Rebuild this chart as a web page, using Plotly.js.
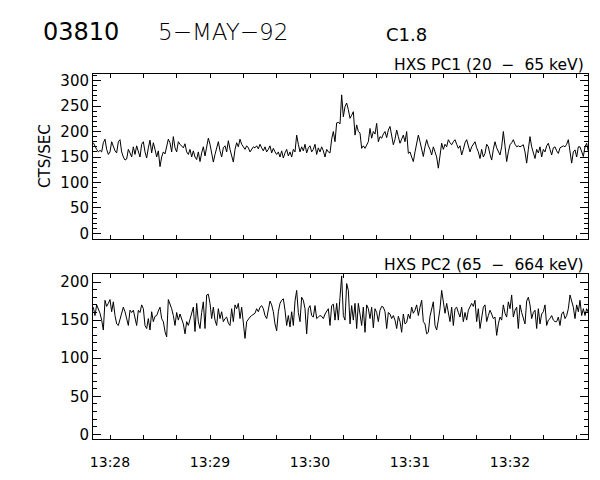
<!DOCTYPE html>
<html>
<head>
<meta charset="utf-8">
<script src="https://cdn.plot.ly/plotly-3.0.1.min.js"></script>
<style>html,body{margin:0;padding:0;background:#fff;}#chart{width:600px;height:480px;}</style>
</head>
<body>
<div id="chart"></div>
<script>
// Sample timing (1 s cadence)
const startTime = '1992-05-05 13:27:50';
const cadenceSec = 1;

// HXS PC1 (20 - 65 keV), counts/s
const pc1 = [
178,170,165,160,163,160,178,185,165,155,
160,180,170,162,158,180,184,160,150,144,
146,165,158,150,170,155,172,160,150,175,
180,160,148,168,183,158,178,165,150,162,
131,150,160,156,172,185,178,160,190,168,
160,180,175,172,168,176,160,155,165,150,
162,150,145,160,141,158,170,152,170,187,
175,160,140,155,170,180,162,150,168,172,
160,182,165,150,140,165,178,170,185,175,
170,165,172,168,160,165,170,168,172,166,
175,168,162,170,160,165,172,158,167,160,
155,160,150,162,148,158,165,152,160,150,
165,160,193,175,160,170,162,175,158,168,
172,160,165,175,155,168,160,170,162,150,
165,160,158,185,200,180,217,218,215,272,
229,249,256,243,226,232,239,193,213,200,
197,167,172,167,174,180,206,187,200,195,
216,180,190,187,195,200,188,203,210,190,
174,185,203,190,177,185,193,180,200,157,
160,150,141,160,175,193,180,165,151,170,
184,172,165,154,170,160,150,128,150,177,
165,175,170,184,178,174,180,184,175,167,
172,154,165,178,184,170,160,170,175,180,
168,160,147,165,150,157,175,170,155,144,
165,180,168,160,154,170,200,172,141,160,
174,178,184,175,170,172,170,172,174,160,
138,165,190,170,160,147,165,158,170,150,
165,160,172,177,165,154,168,170,162,157,
168,170,172,170,175,184,165,138,160,164,
150,170,170,160,151,170,177,160
];

// HXS PC2 (65 - 664 keV), counts/s
const pc2 = [
167,156,170,165,159,150,137,176,168,172,
177,161,174,156,145,143,152,160,167,161,
152,143,163,160,163,152,143,163,160,170,
165,143,139,152,137,161,148,155,156,162,
167,152,148,135,128,177,172,165,156,143,
160,150,158,152,145,132,148,143,152,161,
167,135,172,148,139,160,174,139,183,184,
172,152,167,150,143,165,152,161,148,152,
154,146,143,165,148,170,165,172,152,167,
150,126,148,152,154,156,158,159,165,161,
167,169,165,156,152,165,175,170,161,145,
136,161,172,176,178,163,143,156,141,161,
143,175,189,160,148,180,176,165,132,165,
169,156,154,169,152,154,156,155,152,158,
162,165,143,169,171,150,172,150,180,208,
156,150,198,189,145,169,150,172,139,172,
158,143,167,134,170,165,152,167,140,165,
160,148,163,168,167,161,139,160,158,152,
156,150,139,155,148,134,158,145,147,158,
152,167,159,163,170,156,167,176,148,145,
132,134,155,165,174,143,137,150,165,189,
176,159,172,160,148,167,143,165,167,160,
154,167,148,160,150,163,167,172,168,176,
148,165,139,152,167,170,148,156,163,158,
152,154,130,145,154,150,170,159,154,174,
165,183,154,163,167,139,170,160,152,145,
175,180,170,152,160,163,139,165,145,158,
161,170,143,150,152,156,150,148,148,154,
143,158,161,152,156,165,183,174,167,152,
170,161,176,156,165,156,165,160
];

const xRange = ['1992-05-05 13:27:49.8', '1992-05-05 13:32:46.8'];
const yRangeTop = [-11, 313];
const yRangeBottom = [-6, 210.5];
const xTick0 = '1992-05-05 13:28:00';

function pad(n){return (n<10?'0':'')+n;}
const t0 = new Date(startTime.replace(' ','T')+'Z').getTime();
function times(n){
  const out=[];
  for(let i=0;i<n;i++){
    const d=new Date(t0+i*cadenceSec*1000);
    out.push('1992-05-05 '+pad(d.getUTCHours())+':'+pad(d.getUTCMinutes())+':'+pad(d.getUTCSeconds()));
  }
  return out;
}

const lineStyle = {color:'#000', width:1};
const traces = [
  {x: times(pc1.length), y: pc1, type:'scatter', mode:'lines', line: lineStyle, xaxis:'x2', yaxis:'y2', hoverinfo:'skip'},
  {x: times(pc2.length), y: pc2, type:'scatter', mode:'lines', line: lineStyle, xaxis:'x', yaxis:'y', hoverinfo:'skip'}
];

const font = {family:'DejaVu Sans, sans-serif', size:14, color:'#000'};
const yTickFont = {family:'DejaVu Sans, sans-serif', size:15, color:'#000'};
function xAxis(showLabels, anchor){
  return {
    type:'date', range:xRange, anchor:anchor, domain:[0,1],
    tickformat:'%H:%M', tick0:xTick0, dtick:60000,
    ticks:'inside', ticklen:4, tickcolor:'#000', tickwidth:1,
    minor:{dtick:20000, tick0:xTick0, ticks:'inside', ticklen:4, tickcolor:'#000', showgrid:false},
    showline:true, linecolor:'#000', linewidth:1, mirror:'ticks',
    showgrid:false, zeroline:false, showticklabels:showLabels,
    ticklabelstandoff:10, tickfont:font
  };
}
function yAxis(range, domain, anchor){
  return {
    range:range, domain:domain, anchor:anchor, dtick:50, tick0:0,
    ticks:'inside', ticklen:8, tickcolor:'#000', tickwidth:1,
    minor:{dtick:10, ticks:'inside', ticklen:4, tickcolor:'#000', showgrid:false},
    showline:true, linecolor:'#000', linewidth:1, mirror:'ticks',
    showgrid:false, zeroline:false, tickfont:yTickFont
  };
}

function px(x){return (x-93)/495;}
function py(y){return (439-y)/365;}

const labelFont = {family:'DejaVu Sans, sans-serif', size:15.5, color:'#000'};
const layout = {
  width:600, height:480,
  margin:{l:93, r:12, t:74, b:41},
  paper_bgcolor:'#fff', plot_bgcolor:'#fff',
  showlegend:false, font:font,
  xaxis: xAxis(true, 'y'),
  yaxis: yAxis(yRangeBottom, [0, 0.452], 'x'),
  xaxis2: xAxis(false, 'y2'),
  yaxis2: yAxis(yRangeTop, [0.548, 1], 'x2'),
  annotations:[
    {text:'03810', xref:'paper', yref:'paper', x:px(41), y:py(32), xanchor:'left', yanchor:'middle', showarrow:false, font:{family:'DejaVu Sans, sans-serif', size:24, color:'#000'}},
    {text:'5\u2212MAY\u221292', xref:'paper', yref:'paper', x:px(156), y:py(32), xanchor:'left', yanchor:'middle', showarrow:false, font:{family:'DejaVu Sans, sans-serif', size:23, color:'#000', weight:300}},
    {text:'C1.8', xref:'paper', yref:'paper', x:px(384), y:py(34), xanchor:'left', yanchor:'middle', showarrow:false, font:{family:'DejaVu Sans, sans-serif', size:18, color:'#000'}},
    {text:'HXS PC1 (20 \u00a0\u2212\u00a0 65 keV)', xref:'paper', yref:'paper', x:px(586), y:py(65), xanchor:'right', yanchor:'middle', showarrow:false, font:labelFont},
    {text:'HXS PC2 (65 \u00a0\u2212\u00a0 664 keV)', xref:'paper', yref:'paper', x:px(586), y:py(265), xanchor:'right', yanchor:'middle', showarrow:false, font:labelFont},
    {text:'CTS/SEC', xref:'paper', yref:'paper', x:px(45), y:py(156), xanchor:'center', yanchor:'middle', textangle:-90, showarrow:false, font:{family:'DejaVu Sans, sans-serif', size:15, color:'#000'}}
  ]
};

Plotly.newPlot('chart', traces, layout, {staticPlot:true, displayModeBar:false});
</script>
</body>
</html>
